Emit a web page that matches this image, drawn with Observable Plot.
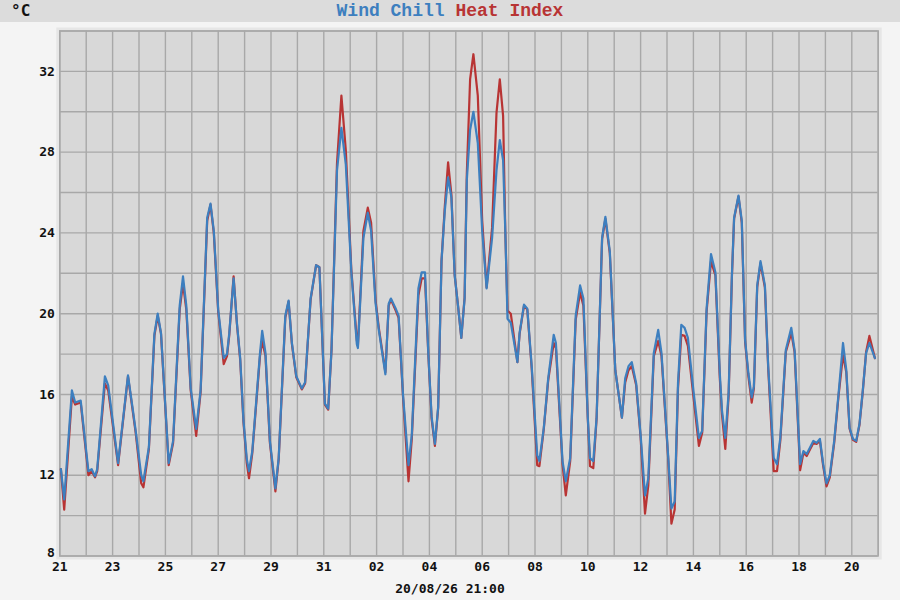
<!DOCTYPE html>
<html><head><meta charset="utf-8">
<script src="https://cdn.jsdelivr.net/npm/d3@7"></script>
<script src="https://cdn.jsdelivr.net/npm/@observablehq/plot@0.6"></script>
<style>
body{margin:0;width:900px;height:600px;background:#f4f4f4;position:relative;overflow:hidden;}
#band{position:absolute;left:0;top:0;width:900px;height:22px;background:#dcdcdc;}
#unit{position:absolute;left:11px;top:0px;font:bold 16px "DejaVu Sans Mono";color:#111;line-height:21px}
#title{position:absolute;left:0;width:900px;top:1px;text-align:center;font:bold 18px "Liberation Mono";line-height:20px;white-space:pre}
#chart{position:absolute;left:0;top:22px}
#caption{position:absolute;left:0;width:900px;top:580px;text-align:center;font:bold 13px "DejaVu Sans Mono";line-height:18px;color:#111}
</style>
</head><body>
<div id="band"></div>
<div id="unit">°C</div>
<div id="title"><span style="color:#3d7fbf">Wind Chill</span> <span style="color:#b83434">Heat Index</span></div>
<div id="chart"></div>
<div id="caption">20/08/26 21:00</div>
<script>
// hours since 2026-07-21 00:00 (UTC)
const hours = [1,4,11,14,19,26,29,32,34,41,44,53,62,66,69,74,76,81,86,89,92,99,103,109,112,115,119,124,128,134,137,140,144,149,152,154,158,161,164,167,170,172,175,182,184,187,191,196,199,205,208,211,215,220,223,228,233,236,241,244,247,252,256,260,265,270,271,276,280,283,287,290,296,299,301,305,308,312,317,320,326,329,332,335,338,341,344,347,350,353,356,359,362,365,368,370,373,376,380,384,388,393,397,400,403,405,407,410,416,418,422,425,429,434,436,440,444,449,451,457,460,464,469,473,476,480,482,485,488,493,496,500,505,511,514,517,520,524,528,532,535,540,544,547,553,556,559,562,565,568,571,576,581,584,588,592,596,600,602,605,608,611,613,617,620,623,626,629,631,634,637,641,644,649,652,655,660,665,668,673,676,679,685,688,691,694,697,700,704,708,712,715,718,721,724,727,730,733,736,741];
const windChill = [12.3,10.8,16.2,15.6,15.7,12.2,12.3,11.95,12.3,16.9,16.45,12.6,16.95,15.4,14.2,12.0,11.7,13.4,19.0,20.0,19.05,12.6,13.7,20.4,21.85,20.4,16.3,14.3,16.2,24.75,25.45,24.1,20.2,17.8,18.0,19.0,21.75,19.55,17.8,14.7,12.8,12.2,13.2,18.05,19.15,18.05,13.7,11.35,12.85,19.9,20.65,18.55,16.9,16.3,16.6,20.75,22.4,22.3,15.55,15.3,18.2,27.1,29.2,27.4,22.1,18.5,18.3,23.75,25.0,24.1,20.55,19.2,17.0,20.5,20.75,20.3,19.9,16.0,12.5,14.0,21.25,22.05,22.05,18.05,14.9,13.55,15.4,22.6,25.1,26.75,25.75,21.9,20.4,18.8,20.75,26.6,29.1,30.0,28.45,24.1,21.25,23.75,27.1,28.6,27.6,24.1,19.75,19.55,17.6,19.05,20.45,20.25,17.4,13.0,12.7,14.35,16.8,18.95,18.55,12.7,11.7,12.85,19.9,21.4,20.75,14.85,12.85,12.7,14.85,23.75,24.8,23.1,17.2,14.85,16.8,17.4,17.6,16.55,14.0,11.0,11.85,18.05,19.2,18.05,13.0,10.35,10.7,16.55,19.45,19.3,18.8,16.2,13.85,14.2,20.25,22.95,22.05,17.05,15.2,13.85,16.05,21.9,24.75,25.85,24.6,18.7,17.05,15.85,16.4,21.4,22.6,21.4,17.4,12.85,12.55,13.85,18.2,19.3,18.2,12.55,13.2,13.05,13.7,13.6,13.8,12.55,11.6,12.0,13.7,16.05,18.55,17.2,14.35,13.8,13.7,14.55,16.2,18.05,18.55,17.8];
const heatIndex = [12.3,10.3,15.9,15.5,15.6,12.0,12.2,11.9,12.2,16.55,16.2,12.5,16.9,15.3,14.1,11.6,11.4,13.3,18.9,19.9,19.0,12.5,13.6,20.2,21.5,20.2,16.2,13.95,16.1,24.6,25.4,24.0,20.1,17.5,17.9,18.9,21.85,19.5,17.7,14.6,12.6,11.85,13.1,17.9,18.65,17.9,13.6,11.2,12.8,19.8,20.6,18.5,16.85,16.25,16.55,20.7,22.4,22.3,15.5,15.25,18.2,27.45,30.8,28.1,22.2,18.7,18.4,24.1,25.25,24.5,20.7,19.3,17.1,20.4,20.7,20.2,19.8,15.9,11.7,13.8,20.9,21.75,21.75,18.0,14.8,13.45,15.35,22.6,25.3,27.5,25.9,21.9,20.4,18.8,20.8,26.9,31.6,32.85,30.8,24.6,21.3,24.25,29.95,31.6,29.8,24.1,20.15,20.0,17.6,19.0,20.4,20.2,17.3,12.5,12.45,14.3,16.7,18.55,18.3,12.55,11.0,12.7,19.7,21.05,20.4,14.8,12.45,12.35,14.8,23.7,24.7,23.0,17.2,14.85,16.6,17.2,17.4,16.45,13.9,10.1,11.5,17.9,18.65,17.9,12.9,9.6,10.3,16.3,18.95,18.9,18.4,15.9,13.45,14.1,20.1,22.6,21.9,16.8,15.0,13.3,15.9,21.8,24.7,25.8,24.5,18.6,16.9,15.6,16.3,21.3,22.5,21.3,17.3,12.2,12.2,13.7,18.1,19.05,18.1,12.25,13.1,12.95,13.6,13.55,13.7,12.45,11.45,11.9,13.6,15.95,17.95,17.1,14.3,13.75,13.65,14.5,16.15,18.1,18.9,17.8];
const yGridValues = [8,10,12,14,16,18,20,22,24,26,28,30,32,34];
const yTickLabels = [12,16,20,24,28,32];
const yBottomLabel = [8];

const start = new Date(Date.UTC(2026,6,21));
const end = new Date(Date.UTC(2026,7,21));
const data = hours.map((h,i)=>({date:new Date(+start + h*3600e3), wc:windChill[i], hi:heatIndex[i]}));
const dayTicks = d3.utcDay.range(start, new Date(+end + 1));
const labelTicks = dayTicks.filter((d,i)=>i%2===0 && +d < +end);

const blue = "#3d7fbf", red = "#b83434", grid = "#a8a8a8";
const chart = Plot.plot({
  width: 900, height: 560,
  marginTop: 8.5, marginBottom: 26.5, marginLeft: 59.3, marginRight: 22.3,
  style: {background: "transparent", fontFamily: "DejaVu Sans Mono", fontSize: "13px", fontWeight: "bold", color: "#111"},
  x: {type: "utc", domain: [start, end]},
  y: {domain: [8, 34]},
  marks: [
    Plot.frame({stroke: "#e6e6e6", strokeWidth: 7}),
    Plot.frame({fill: "#d8d8d8"}),
    Plot.gridX(dayTicks, {stroke: grid, strokeOpacity: 1, strokeWidth: 1.4}),
    Plot.gridY(yGridValues, {stroke: grid, strokeOpacity: 1, strokeWidth: 1.4}),
    Plot.frame({stroke: grid, strokeWidth: 1.4}),
    Plot.lineY(data, {x: "date", y: "hi", stroke: red, strokeWidth: 2.2}),
    Plot.lineY(data, {x: "date", y: "wc", stroke: blue, strokeWidth: 2.2}),
    Plot.axisX(labelTicks, {tickFormat: d3.utcFormat("%d"), tickSize: 0, tickPadding: 6, label: null}),
    Plot.axisY(yTickLabels, {tickSize: 0, tickPadding: 5, label: null}),
    Plot.axisY(yBottomLabel, {tickSize: 0, tickPadding: 5, label: null, dy: -3})
  ]
});
document.getElementById("chart").append(chart);
</script>
</body></html>
